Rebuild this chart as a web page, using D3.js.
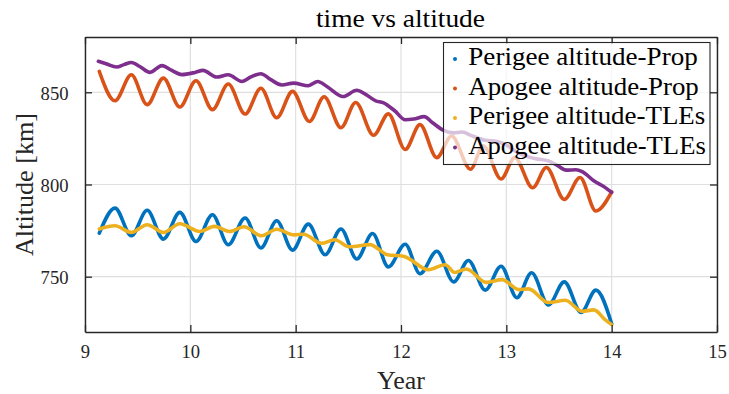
<!DOCTYPE html>
<html><head><meta charset="utf-8">
<script src="https://cdn.jsdelivr.net/npm/d3@7"></script>
<style>
html,body{margin:0;padding:0;background:#fff;}
svg{display:block;font-family:"Liberation Serif",serif;}
svg text{font-family:"Liberation Serif",serif;}
</style></head>
<body>
<svg id="chart" width="729" height="394"></svg>
<script>
// ---- data ----
const xTicks = [9, 10, 11, 12, 13, 14, 15];
const yTicks = [750, 800, 850];
const seriesNames = ["Perigee altitude-Prop", "Apogee altitude-Prop", "Perigee altitude-TLEs", "Apogee altitude-TLEs"];
const seriesColors = ["#0072BD", "#D95319", "#EDB120", "#7E2F8E"];

const perigeePropYear = [9.136,9.285,9.44,9.59,9.744,9.90,10.054,10.21,10.36,10.52,10.67,10.82,10.97,11.12,11.28,11.43,11.58,11.73,11.88,12.04,12.18,12.34,12.50,12.64,12.80,12.95,13.10,13.24,13.40,13.55,13.71,13.85,14.00];
const perigeePropAlt  = [773.6,787.2,772.2,786.0,770.4,784.9,769.1,783.6,767.3,781.8,765.6,780.3,764.4,778.5,761.9,775.9,759.6,773.4,755.3,767.6,751.6,763.8,747.2,758.8,742.7,755.7,738.6,752.1,734.7,747.2,730.6,742.7,724.5];

const apogeePropYear = [9.136,9.285,9.44,9.59,9.744,9.90,10.054,10.21,10.36,10.52,10.67,10.82,10.97,11.13,11.27,11.43,11.57,11.74,11.88,12.04,12.18,12.34,12.48,12.66,12.78,12.95,13.08,13.25,13.38,13.55,13.70,13.85,14.00];
const apogeePropAlt  = [861.3,845.4,859.5,843.3,857.7,842.0,856.3,840.6,854.5,838.2,852.2,836.2,850.5,834.2,847.6,830.8,844.5,826.7,838.3,819.0,832.5,814.6,826.3,808.3,821.0,803.0,814.6,798.2,809.2,791.9,803.8,785.6,796.0];

const perigeeTleYear = [9.136,9.285,9.44,9.59,9.744,9.90,10.09,10.23,10.37,10.51,10.675,10.82,10.985,11.075,11.245,11.37,11.51,11.705,11.87,12.03,12.26,12.42,12.51,12.62,12.81,12.96,13.12,13.21,13.40,13.56,13.72,13.83,13.94,14.00];
const perigeeTleAlt  = [775.9,777.6,774.0,778.2,774.0,778.7,774.5,777.3,774.5,777.1,772.2,775.7,772.7,773.0,768.1,770.0,766.2,767.4,761.9,761.0,753.8,756.5,752.3,754.2,746.9,748.4,743.0,743.4,736.0,737.2,731.2,732.0,726.6,724.0];

const apogeeTleYear = [9.127,9.20,9.30,9.37,9.44,9.52,9.617,9.73,9.82,9.918,10.045,10.12,10.25,10.36,10.49,10.58,10.67,10.76,10.87,10.98,11.12,11.21,11.30,11.45,11.58,11.66,11.76,11.83,11.94,12.04,12.12,12.22,12.30,12.40,12.50,12.58,12.67,12.80,12.90,12.99,13.10,13.18,13.28,13.40,13.48,13.57,13.66,13.72,13.83,13.94,14.00];
const apogeeTleAlt  = [866.8,865.5,863.7,865.0,866.2,864.0,860.8,864.5,862.0,859.6,860.8,861.9,858.3,859.5,855.9,858.5,860.1,857.0,854.0,855.0,853.6,855.9,853.0,847.7,851.1,849.0,845.4,844.4,840.0,835.1,835.5,836.8,833.5,829.5,828.0,828.5,826.5,824.0,823.5,821.8,817.5,815.5,814.0,812.8,810.5,807.8,808.0,807.0,802.0,798.3,795.7];

const seriesYears = [perigeePropYear, apogeePropYear, perigeeTleYear, apogeeTleYear];
const seriesAlts  = [perigeePropAlt, apogeePropAlt, perigeeTleAlt, apogeeTleAlt];

// ---- layout ----
const svg = d3.select("#chart");
const L = 85, R = 717, T = 37, B = 332;
const x = d3.scaleLinear().domain([9, 15]).range([L, R]);
const y = d3.scaleLinear().domain([720, 880]).range([B, T]);
const axisColor = "#262626";
const serif = "'Liberation Serif', serif";

// grid
const grid = svg.append("g");
grid.selectAll("line.gx").data(xTicks).join("line")
  .attr("x1", d => x(d)).attr("x2", d => x(d)).attr("y1", T).attr("y2", B)
  .attr("stroke", "#dfdfdf").attr("stroke-width", 1.2);
grid.selectAll("line.gy").data(yTicks).join("line")
  .attr("x1", L).attr("x2", R).attr("y1", d => y(d)).attr("y2", d => y(d))
  .attr("stroke", "#dfdfdf").attr("stroke-width", 1.2);

// lines
const line = d3.line().curve(d3.curveMonotoneX)
  .x(d => x(d[0])).y(d => y(d[1]));
seriesYears.forEach((yrs, i) => {
  const pts = yrs.map((t, j) => [t, seriesAlts[i][j]]);
  svg.append("path").datum(pts)
    .attr("d", line).attr("fill", "none")
    .attr("stroke", seriesColors[i]).attr("stroke-width", 3.6)
    .attr("stroke-linejoin", "round").attr("stroke-linecap", "round");
});

// axes
function styleAxis(g) {
  g.attr("font-family", serif).attr("font-size", 18.6);
  g.select(".domain").attr("stroke", axisColor).attr("stroke-width", 1.4);
  g.selectAll(".tick line").attr("stroke", axisColor).attr("stroke-width", 1.3);
  g.selectAll(".tick text").attr("fill", "#262626").attr("font-family", serif).attr("font-size", 18.6);
}
svg.append("g").attr("transform", `translate(0,${B})`)
  .call(d3.axisBottom(x).tickValues(xTicks).tickFormat(d3.format("d")).tickSize(-7).tickSizeOuter(0).tickPadding(13))
  .call(styleAxis);
svg.append("g").attr("transform", `translate(0,${T})`)
  .call(d3.axisTop(x).tickValues(xTicks).tickFormat("").tickSize(-7).tickSizeOuter(0))
  .call(styleAxis);
svg.append("g").attr("transform", `translate(${L},0)`)
  .call(d3.axisLeft(y).tickValues(yTicks).tickFormat(d3.format("d")).tickSize(-7).tickSizeOuter(0).tickPadding(16.5))
  .call(styleAxis)
  .selectAll(".tick text").attr("dy", "0.38em");
svg.append("g").attr("transform", `translate(${R},0)`)
  .call(d3.axisRight(y).tickValues(yTicks).tickFormat("").tickSize(-7).tickSizeOuter(0))
  .call(styleAxis);

// labels
const lab = (txt, len) => svg.append("text").text(txt)
  .attr("fill", "#262626").attr("font-size", 24.5).attr("font-family", serif)
  .attr("text-anchor", "middle")
  .attr("textLength", len).attr("lengthAdjust", "spacingAndGlyphs");
lab("time vs altitude", 169).attr("x", 400.5).attr("y", 27).attr("fill", "#000");
lab("Year", 48).attr("x", 401).attr("y", 389);
lab("Altitude [km]", 143).attr("transform", "translate(33,184.5) rotate(-90)");

// legend
const lg = svg.append("g");
lg.append("rect").attr("x", 443.5).attr("y", 42.5).attr("width", 266.5).attr("height", 122)
  .attr("fill", "#fff").attr("fill-opacity", 0.7)
  .attr("stroke", axisColor).attr("stroke-width", 1.1);
const legLens = [229.5, 230.5, 237, 237.5];
seriesNames.forEach((name, i) => {
  const by = 65 + i * 29.5;
  lg.append("circle").attr("cx", 455).attr("cy", by - 6).attr("r", 2)
    .attr("fill", seriesColors[i]);
  lg.append("text").text(name).attr("x", 468.3).attr("y", by)
    .attr("font-size", 24.5).attr("font-family", serif).attr("fill", "#000")
    .attr("textLength", legLens[i]).attr("lengthAdjust", "spacingAndGlyphs");
});
</script>
</body></html>
